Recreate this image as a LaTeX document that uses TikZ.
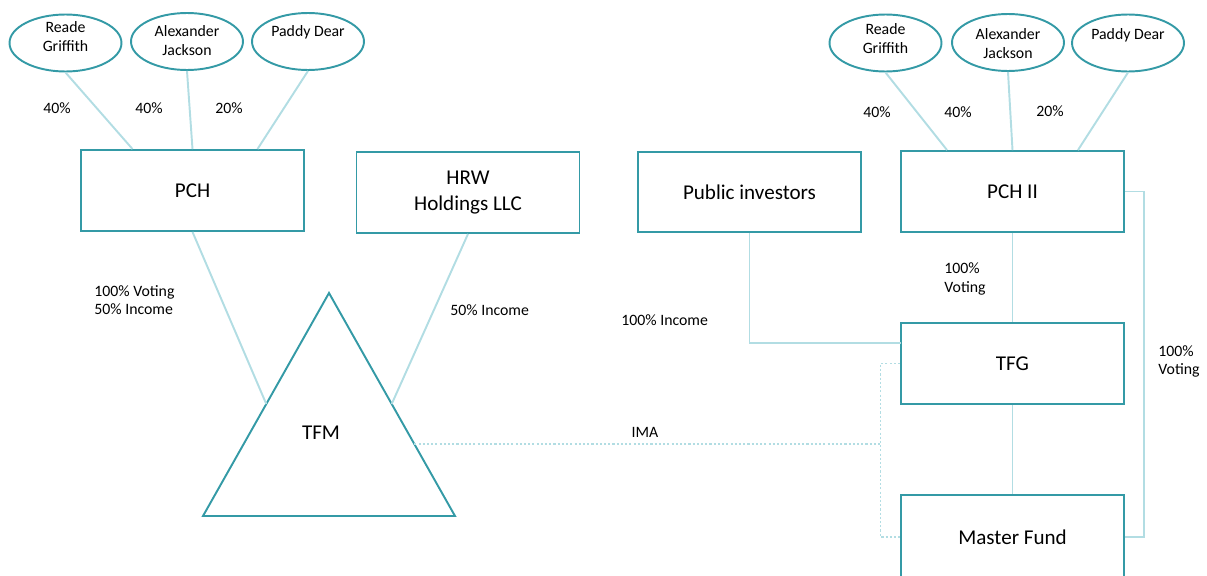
\documentclass[tikz,border=0pt]{standalone}
\usepackage{fontspec}
\setmainfont{Carlito}
\usetikzlibrary{shapes.geometric}
\definecolor{boxteal}{RGB}{52,154,166}
\definecolor{linkblue}{RGB}{178,221,227}
\begin{document}
\begin{tikzpicture}[x=0.02cm,y=-0.02cm,
  entity/.style={draw=boxteal, line width=1.1pt, minimum width=4.46cm, minimum height=1.62cm,
    inner sep=0pt, align=center, font=\fontsize{12}{15.3}\selectfont},
  owner/.style={ellipse, draw=boxteal, line width=1.1pt, minimum width=2.24cm,
    minimum height=1.14cm, inner sep=0pt},
  ownertext/.style={align=center, inner sep=0pt, font=\fontsize{9}{10.8}\selectfont},
  tag/.style={inner sep=0pt, align=left, font=\fontsize{9}{10.4}\selectfont},
  link/.style={draw=linkblue, line width=1.1pt},
  ima/.style={draw=linkblue, line width=1.1pt, dash pattern=on 1.2pt off 1.2pt}]
\useasboundingbox (0,0) rectangle (1207,575);
\clip (0,0) rectangle (1207,575);

% ---------- left group: owners of PCH ----------
\node[owner] (lrg) at (65.5,43) {};
\node[owner] (laj) at (187,41.5) {};
\node[owner] (lpd) at (308,41.5) {};
\node[ownertext] (lrgt) at (65.5,36.5) {Reade\\Griffith};
\node[ownertext] (lajt) at (187,41) {Alexander\\Jackson};
\node[ownertext] (lpdt) at (308,32) {Paddy Dear};

\node[entity] (pch) at (192.5,190.5) {PCH};
\node[entity] (hrw) at (468,192.5) {HRW\\Holdings LLC};

\draw[link] (lrg.south) -- ([xshift=-1.2cm]pch.north);
\draw[link] (laj.south) -- (pch.north);
\draw[link] (lpd.south) -- ([xshift=1.3cm]pch.north);

\node[tag] (l40a) at (57,108) {40\%};
\node[tag] (l40b) at (149,108) {40\%};
\node[tag] (l20)  at (229,108) {20\%};

% ---------- TFM ----------
\coordinate (tfmtop) at (329,293);
\coordinate (tfmbr) at (455,516);
\coordinate (tfmbl) at (203,516);
\coordinate (tfmL) at (266.3,404);
\coordinate (tfmR) at (391.7,404);
\coordinate (tfmIMA) at (414.3,444);
\draw[draw=boxteal, line width=1.1pt, line join=miter] (tfmtop) -- (tfmbr) -- (tfmbl) -- cycle;
\node[inner sep=0pt, font=\fontsize{12}{15}\selectfont] (tfm) at (321,433) {TFM};

\draw[link] (pch.south) -- (tfmL);
\draw[link] (hrw.south) -- (tfmR);

\node[tag, anchor=west] (pchtag) at (94,300) {100\% Voting\\50\% Income};
\node[tag, anchor=west] (hrwtag) at (450,310) {50\% Income};

% ---------- right group ----------
\node[owner] (rrg) at (885.5,43) {};
\node[owner] (raj) at (1008,42.5) {};
\node[owner] (rpd) at (1128,43) {};
\node[ownertext] (rrgt) at (885.5,39) {Reade\\Griffith};
\node[ownertext] (rajt) at (1008,44) {Alexander\\Jackson};
\node[ownertext] (rpdt) at (1128,35) {Paddy Dear};

\node[entity, minimum height=1.6cm] (pub) at (749.5,192) {Public investors};
\node[entity] (pch2) at (1012.5,191.5) {PCH II};
\node[entity] (tfg) at (1012.5,363.5) {TFG};
\node[entity, minimum height=1.68cm] (mf) at (1012.5,537) {Master Fund};

\draw[link] (rrg.south) -- ([xshift=-1.31cm]pch2.north);
\draw[link] (raj.south) -- (pch2.north);
\draw[link] (rpd.south) -- ([xshift=1.31cm]pch2.north);

\node[tag] (r40a) at (877,112) {40\%};
\node[tag] (r40b) at (958,112) {40\%};
\node[tag] (r20)  at (1050,111) {20\%};

\coordinate (pubturn) at (749.5,343);
\coordinate (tfgin) at (901,343);
\draw[link] (pub.south) -- (pubturn) -- (tfgin);
\draw[link] (pch2.south) -- (tfg.north);
\draw[link] (tfg.south) -- (mf.north);
\coordinate (vtop) at (1144,191.5);
\coordinate (vbot) at (1144,537);
\draw[link] (pch2.east) -- (vtop) -- (vbot) -- (mf.east);

\node[tag, anchor=west] (pubtag) at (621,320) {100\% Income};
\node[tag, anchor=west] (pch2tag) at (944,279) {100\%\\Voting};
\node[tag, anchor=west] (vtag) at (1158,361.5) {100\%\\Voting};

% ---------- IMA (dotted) ----------
\coordinate (imaj) at (880.5,444);
\coordinate (imat) at (880.5,363.5);
\coordinate (imab) at (880.5,537);
\draw[ima] (tfmIMA) -- (imaj);
\draw[ima] (tfg.west) -- (imat) -- (imab) -- (mf.west);
\node[tag] (imatag) at (645,432) {IMA};
\end{tikzpicture}
\end{document}
